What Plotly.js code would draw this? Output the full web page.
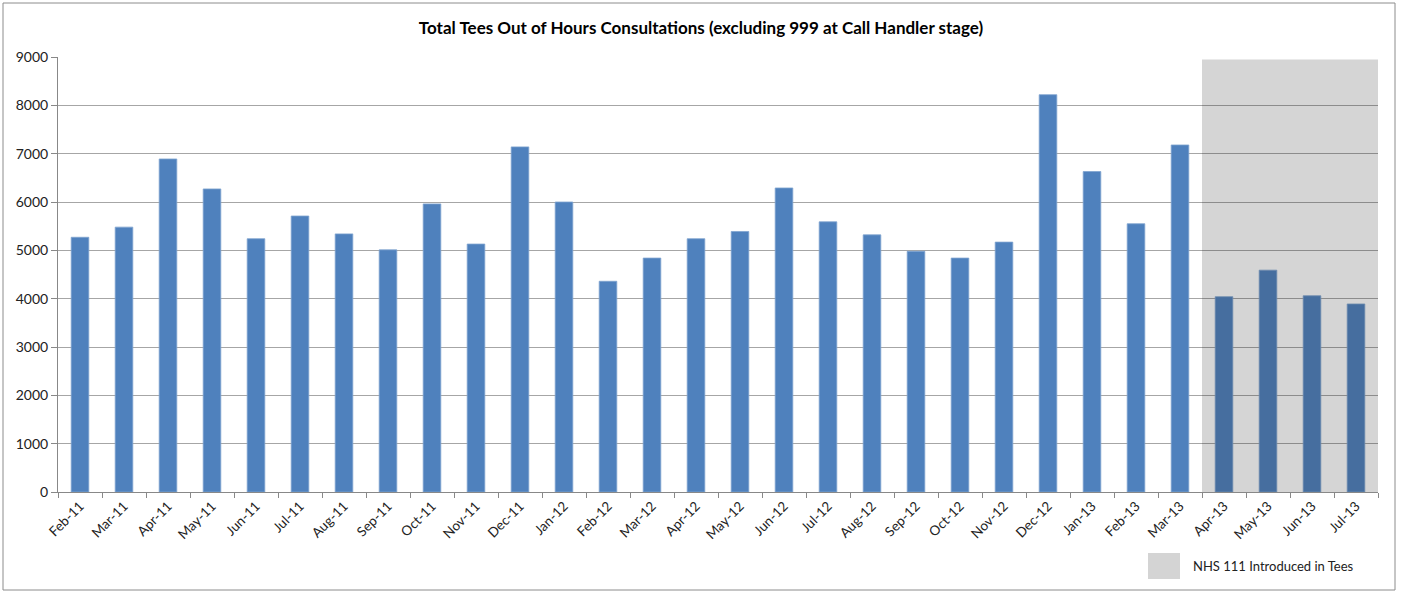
<!DOCTYPE html>
<html>
<head>
<meta charset="utf-8">
<script src="https://cdn.plot.ly/plotly-3.0.1.min.js"></script>
<style>
  html, body { margin: 0; padding: 0; background: #fff; }
  #chart { width: 1402px; height: 594px; }
</style>
</head>
<body>
<div id="chart"></div>
<script>
// Monthly consultation counts, Feb 2011 – Jul 2013
const months = [
  "Feb-11", "Mar-11", "Apr-11", "May-11", "Jun-11", "Jul-11", "Aug-11", "Sep-11",
  "Oct-11", "Nov-11", "Dec-11", "Jan-12", "Feb-12", "Mar-12", "Apr-12", "May-12",
  "Jun-12", "Jul-12", "Aug-12", "Sep-12", "Oct-12", "Nov-12", "Dec-12", "Jan-13",
  "Feb-13", "Mar-13", "Apr-13", "May-13", "Jun-13", "Jul-13"
];
const consultations = [
  5270, 5480, 6890, 6270, 5240, 5710, 5340, 5010,
  5960, 5130, 7140, 6000, 4360, 4840, 5240, 5390,
  6290, 5590, 5320, 4980, 4840, 5170, 8220, 6630,
  5550, 7180, 4040, 4590, 4060, 3890
];
// Months after NHS 111 went live in Tees (shaded band)
const nhs111Months = ["Apr-13", "May-13", "Jun-13", "Jul-13"];
const nhs111Band = [8950, 8950, 8950, 8950];
const yTicks = [0, 1000, 2000, 3000, 4000, 5000, 6000, 7000, 8000, 9000];

const FONT = "Lato, 'Open Sans', sans-serif";

// plot-area geometry in pixels, used to place the frame and the legend box
const W = 1402, H = 594;
const M = { l: 58, r: 24, t: 57, b: 102 };
const pw = W - M.l - M.r, ph = H - M.t - M.b;
const px = x => (x - M.l) / pw;
const py = y => (H - M.b - y) / ph;

const traces = [
  {
    type: "bar",
    name: "Consultations",
    x: months,
    y: consultations,
    width: 0.4,
    marker: { color: "#4f81bd", line: { color: "#7fa3cf", width: 0.8 } },
    showlegend: false,
    hoverinfo: "x+y"
  },
  {
    type: "bar",
    name: "NHS 111 Introduced in Tees",
    x: nhs111Months,
    y: nhs111Band,
    width: 1,
    marker: { color: "rgba(34,34,34,0.19)", line: { width: 0 } },
    showlegend: false,
    hoverinfo: "skip"
  }
];

const layout = {
  width: W,
  height: H,
  margin: M,
  paper_bgcolor: "#ffffff",
  plot_bgcolor: "#ffffff",
  barmode: "overlay",
  font: { family: FONT, size: 13, color: "#222" },
  title: {
    text: "<b>Total Tees Out of Hours Consultations (excluding 999 at Call Handler stage)</b>",
    font: { family: FONT, size: 17, color: "#000" },
    x: 0.5,
    xanchor: "center",
    y: 1 - 28 / H,
    yanchor: "middle"
  },
  xaxis: {
    type: "category",
    categoryorder: "array",
    categoryarray: months,
    tickangle: -45,
    tickfont: { family: FONT, size: 13.5, color: "#222" },
    ticks: "outside",
    tickson: "boundaries",
    ticklen: 5,
    tickcolor: "#888",
    showline: true,
    linecolor: "#888",
    linewidth: 1,
    showgrid: false,
    zeroline: false,
    fixedrange: true
  },
  yaxis: {
    range: [0, 9000],
    tickvals: yTicks,
    ticktext: yTicks.map(String),
    tickfont: { family: FONT, size: 14, color: "#222" },
    ticks: "outside",
    ticklen: 6,
    tickcolor: "#888",
    showline: true,
    linecolor: "#888",
    linewidth: 1,
    showgrid: true,
    gridcolor: "#a6a6a6",
    gridwidth: 1,
    zeroline: false,
    fixedrange: true
  },
  shapes: [
    // outer chart frame
    {
      type: "rect", xref: "paper", yref: "paper",
      x0: px(3), x1: px(1395), y0: py(590), y1: py(3),
      line: { color: "#8c8c8c", width: 1 }, fillcolor: "rgba(0,0,0,0)", layer: "above"
    },
    // legend swatch
    {
      type: "rect", xref: "paper", yref: "paper",
      x0: px(1148), x1: px(1180), y0: py(579), y1: py(553),
      line: { width: 0 }, fillcolor: "#d4d4d4"
    }
  ],
  annotations: [
    {
      xref: "paper", yref: "paper",
      x: px(1191), y: py(566),
      xanchor: "left", yanchor: "middle",
      text: "NHS 111 Introduced in Tees",
      showarrow: false,
      font: { family: FONT, size: 13, color: "#222" }
    }
  ]
};

Plotly.newPlot("chart", traces, layout, { displayModeBar: false, staticPlot: true });
</script>
</body>
</html>
